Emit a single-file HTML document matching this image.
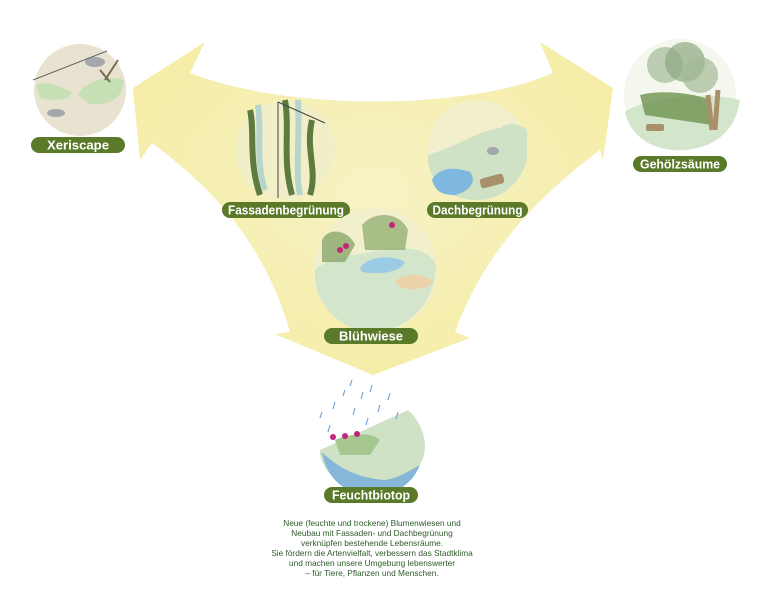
<!DOCTYPE html>
<html><head><meta charset="utf-8"><style>
body{margin:0;background:#fff;width:760px;height:603px;overflow:hidden;font-family:"Liberation Sans",sans-serif}
</style></head><body>
<svg width="760" height="603" viewBox="0 0 760 603" xmlns="http://www.w3.org/2000/svg">
<defs>
<radialGradient id="yg" cx="0.5" cy="0.45" r="0.6"><stop offset="0" stop-color="#f7f2c4"/><stop offset="1" stop-color="#f5eda6"/></radialGradient>
</defs>
<path d="M205,42 L133,88 L140,160 L152,143 C215,190 265,245 290,332 L275,334 L373,375 L470,338 L455,332 C485,250 540,195 600,150 L603,160 L613,88 L540,42 L553,73 C470,110 290,112 190,73 Z" fill="url(#yg)"/>

<!-- Xeriscape -->
<circle cx="80" cy="90" r="46" fill="#e8e3d0"/>
<path d="M36,85 C50,80 62,88 72,92 C70,100 55,102 40,98Z" fill="#c7dfb5"/>
<path d="M78,95 C85,80 110,75 124,80 C122,100 110,105 90,104Z" fill="#c7dfb5"/>
<ellipse cx="95" cy="62" rx="10" ry="5" fill="#a4a8ad"/>
<ellipse cx="56" cy="113" rx="9" ry="4" fill="#a4a8ad"/>
<path d="M105,80 L118,60 M110,82 L100,70" stroke="#7a6a50" stroke-width="2"/>
<line x1="33" y1="80" x2="107" y2="51" stroke="#666" stroke-width="1"/>
<rect x="31" y="137" width="94" height="16" rx="8" fill="#5a7a2a"/>
<text x="78" y="149.5" font-size="13" font-weight="bold" fill="#fff" text-anchor="middle" textLength="62" lengthAdjust="spacingAndGlyphs">Xeriscape</text>

<!-- Fassaden -->
<circle cx="285" cy="150" r="50" fill="#f1efc8"/>
<path d="M250,110 C255,130 248,160 260,195 M285,100 C290,130 282,160 292,195 M312,120 C305,150 318,170 310,195" stroke="#5e7a40" stroke-width="6" fill="none"/>
<path d="M258,105 C262,130 255,160 265,190 M298,100 C300,140 295,170 300,195" stroke="#b6d6cd" stroke-width="6" fill="none"/>
<line x1="278" y1="102" x2="278" y2="198" stroke="#444" stroke-width="1"/>
<line x1="278" y1="102" x2="325" y2="123" stroke="#444" stroke-width="1"/>
<rect x="222" y="202" width="128" height="16" rx="8" fill="#5a7a2a"/>
<text x="286" y="214.5" font-size="13" font-weight="bold" fill="#fff" text-anchor="middle" textLength="116" lengthAdjust="spacingAndGlyphs">Fassadenbegrünung</text>

<!-- Dach -->
<circle cx="478" cy="150" r="50" fill="#f2f0cc"/>
<path d="M428,155 C460,145 480,130 500,128 C510,120 520,125 527,130 L527,160 C520,185 500,200 478,200 C450,200 430,185 428,160Z" fill="#cfe2c6"/>
<path d="M432,180 C440,165 460,168 470,172 C478,182 468,192 455,195 C440,195 435,190 432,180Z" fill="#7fb8de"/>
<rect x="480" y="176" width="24" height="10" rx="3" fill="#a8906a" transform="rotate(-15 492 181)"/>
<ellipse cx="493" cy="151" rx="6" ry="4" fill="#a4a8ad"/>
<rect x="427" y="202" width="101" height="16" rx="8" fill="#5a7a2a"/>
<text x="477.5" y="214.5" font-size="13" font-weight="bold" fill="#fff" text-anchor="middle" textLength="90" lengthAdjust="spacingAndGlyphs">Dachbegrünung</text>

<!-- Blühwiese -->
<circle cx="375" cy="270" r="62" fill="#f2f0cc"/>
<path d="M315,270 C330,255 360,255 380,250 C410,245 430,250 436,265 C436,300 410,330 375,332 C340,332 318,305 315,280Z" fill="#d3e6cb"/>
<path d="M322,240 C330,225 350,232 355,245 L345,262 L322,262Z" fill="#8aa86a" opacity=".8"/>
<path d="M362,225 C375,210 400,212 408,230 L405,250 L365,250Z" fill="#8aa86a" opacity=".7"/>
<path d="M360,268 C368,255 395,255 405,262 C400,273 378,275 362,272Z" fill="#9ccbe6"/>
<ellipse cx="414" cy="282" rx="18" ry="7" fill="#ecd2a8"/>
<circle cx="340" cy="250" r="3" fill="#c2267a"/><circle cx="392" cy="225" r="3" fill="#c2267a"/><circle cx="346" cy="246" r="3" fill="#c2267a"/>
<rect x="324" y="328" width="94" height="16" rx="8" fill="#5a7a2a"/>
<text x="371" y="340.5" font-size="13" font-weight="bold" fill="#fff" text-anchor="middle" textLength="64" lengthAdjust="spacingAndGlyphs">Blühwiese</text>

<!-- Gehölzsäume -->
<circle cx="680" cy="95" r="56" fill="#f4f7ee"/>
<path d="M625,112 C640,100 700,90 740,100 C735,135 710,150 678,150 C650,150 630,135 625,112Z" fill="#d3e6cb"/>
<circle cx="665" cy="65" r="18" fill="#a3b995" opacity=".7"/>
<circle cx="685" cy="62" r="20" fill="#8da880" opacity=".7"/>
<circle cx="700" cy="75" r="18" fill="#a3b995" opacity=".7"/>
<path d="M640,95 C660,90 690,92 710,100 L712,125 L645,115Z" fill="#6e9450" opacity=".8"/>
<path d="M708,95 L712,130 M718,90 L715,130" stroke="#a8906a" stroke-width="5"/>
<rect x="646" y="124" width="18" height="7" rx="2" fill="#a8906a"/>
<rect x="633" y="156" width="94" height="16" rx="8" fill="#5a7a2a"/>
<text x="680" y="168.5" font-size="13" font-weight="bold" fill="#fff" text-anchor="middle" textLength="80" lengthAdjust="spacingAndGlyphs">Gehölzsäume</text>

<!-- Feuchtbiotop -->
<path d="M320,450 L408,410 C420,420 428,440 424,455 C418,475 400,490 373,492 C345,492 325,475 320,455Z" fill="#cfe2c6"/>
<path d="M322,452 C340,470 360,478 385,480 C400,478 410,470 420,465 C412,485 395,495 372,495 C345,495 326,478 322,452Z" fill="#86b6d8"/>
<path d="M335,440 C345,435 370,430 380,440 L370,455 L340,455Z" fill="#a6c890"/>
<circle cx="333" cy="437" r="3" fill="#c2267a"/><circle cx="345" cy="436" r="3" fill="#c2267a"/><circle cx="357" cy="434" r="3" fill="#c2267a"/>
<g stroke="#7aa6d6" stroke-width="1.2">
<line x1="322" y1="412" x2="320" y2="418"/><line x1="335" y1="402" x2="333" y2="409"/><line x1="345" y1="390" x2="343" y2="396"/><line x1="355" y1="408" x2="353" y2="415"/><line x1="363" y1="392" x2="361" y2="399"/><line x1="372" y1="385" x2="370" y2="392"/><line x1="380" y1="405" x2="378" y2="412"/><line x1="390" y1="393" x2="388" y2="400"/><line x1="398" y1="412" x2="396" y2="419"/><line x1="330" y1="425" x2="328" y2="432"/><line x1="368" y1="418" x2="366" y2="425"/><line x1="352" y1="380" x2="350" y2="386"/>
</g>
<rect x="324" y="487" width="94" height="16" rx="8" fill="#5a7a2a"/>
<text x="371" y="499.5" font-size="13" font-weight="bold" fill="#fff" text-anchor="middle" textLength="78" lengthAdjust="spacingAndGlyphs">Feuchtbiotop</text>

<g font-size="8.3" fill="#2f5a2a" text-anchor="middle">
<text x="372" y="526">Neue (feuchte und trockene) Blumenwiesen und</text>
<text x="372" y="536">Neubau mit Fassaden- und Dachbegrünung</text>
<text x="372" y="546">verknüpfen bestehende Lebensräume.</text>
<text x="372" y="556">Sie fördern die Artenvielfalt, verbessern das Stadtklima</text>
<text x="372" y="566">und machen unsere Umgebung lebenswerter</text>
<text x="372" y="576">– für Tiere, Pflanzen und Menschen.</text>
</g>
</svg>
</body></html>
